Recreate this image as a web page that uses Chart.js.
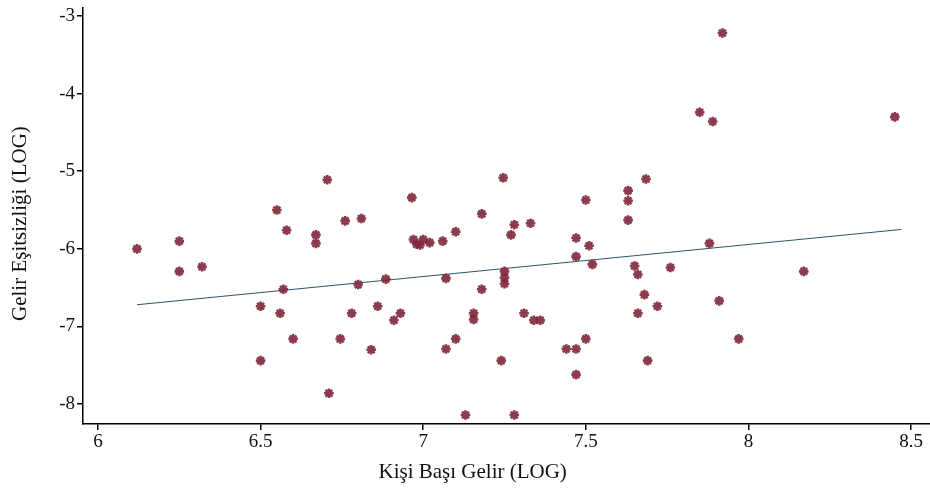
<!DOCTYPE html>
<html>
<head>
<meta charset="utf-8">
<script src="https://cdn.jsdelivr.net/npm/chart.js@4.4.0/dist/chart.umd.min.js"></script>
<style>
  html, body { margin: 0; padding: 0; background: #fff; overflow: hidden; }
  #wrap { width: 938px; height: 495px; }
</style>
</head>
<body>
<div id="wrap"><canvas id="myChart"></canvas></div>
<script>
// kişi başı gelir (log) / gelir eşitsizliği (log)
var gelirX = [6.12, 6.25, 6.25, 6.32, 6.55, 6.705, 6.58, 6.67, 6.67, 6.76, 6.81,
  6.57, 6.50, 6.56, 6.60, 6.50, 6.71, 6.80, 6.78, 6.745, 6.84, 6.86,
  6.965, 7.246, 7.18, 7.50, 7.63, 7.63, 7.685, 7.28, 7.33, 7.27, 7.10, 7.06,
  6.97, 7.00, 6.99, 7.02, 6.98,
  7.63, 7.47, 7.51, 7.47, 7.52, 7.65, 7.66, 7.68, 7.72, 7.66, 7.69,
  6.885, 7.07, 7.25, 7.25, 7.25, 7.18, 6.93, 6.91, 7.155, 7.155, 7.31, 7.34, 7.36,
  7.10, 7.07, 7.44, 7.47, 7.50, 7.24, 7.47, 7.13, 7.28,
  7.92, 7.85, 7.89, 8.45,
  7.88, 7.76, 7.91, 7.97, 8.17];
var esitsizlikY = [-6.00, -5.90, -6.29, -6.23, -5.50, -5.11, -5.76, -5.82, -5.93, -5.64, -5.61,
  -6.52, -6.74, -6.83, -7.16, -7.44, -7.86, -6.46, -6.83, -7.16, -7.30, -6.74,
  -5.34, -5.085, -5.55, -5.37, -5.25, -5.38, -5.10, -5.69, -5.67, -5.82, -5.78, -5.90,
  -5.88, -5.88, -5.95, -5.92, -5.94,
  -5.63, -5.86, -5.96, -6.10, -6.20, -6.22, -6.33, -6.59, -6.74, -6.83, -7.44,
  -6.39, -6.38, -6.29, -6.37, -6.45, -6.52, -6.83, -6.92, -6.83, -6.91, -6.83, -6.92, -6.92,
  -7.16, -7.29, -7.29, -7.29, -7.16, -7.44, -7.62, -8.14, -8.14,
  -3.22, -4.24, -4.36, -4.30,
  -5.93, -6.24, -6.67, -7.16, -6.29];

// fitted line
var fitX = [6.12, 8.47];
var fitY = [-6.72, -5.75];

var xTicks = [6, 6.5, 7, 7.5, 8, 8.5];
var yTicks = [-8, -7, -6, -5, -4, -3];

var points = gelirX.map(function(x, i){ return {x: x, y: esitsizlikY[i]}; });
var fitLine = fitX.map(function(x, i){ return {x: x, y: fitY[i]}; });

var serif = "'Liberation Serif', 'DejaVu Serif', serif";
var nb = '\u00a0';

var ctx = document.getElementById('myChart').getContext('2d');
new Chart(ctx, {
  type: 'scatter',
  data: {
    datasets: [{
      data: points,
      pointStyle: 'star',
      pointRadius: 4.8,
      borderWidth: 2.6,
      borderColor: 'rgba(128,38,58,0.9)',
      backgroundColor: 'rgba(128,38,58,0.9)',
      order: 1
    }, {
      type: 'line',
      data: fitLine,
      borderColor: '#2a5567',
      borderWidth: 1,
      pointRadius: 0,
      fill: false,
      order: 2
    }]
  },
  options: {
    responsive: true,
    maintainAspectRatio: false,
    animation: false,
    layout: { padding: { left: 0, right: 0, top: 5, bottom: 0 } },
    plugins: { legend: { display: false }, tooltip: { enabled: false } },
    scales: {
      x: {
        type: 'linear',
        min: 5.954,
        max: 8.56,
        afterBuildTicks: function(scale){ scale.ticks = xTicks.map(function(v){ return {value: v}; }); },
        afterFit: function(scale){ scale.height = 71; scale.paddingLeft = 0; scale.paddingRight = 0; },
        grid: { drawOnChartArea: false, drawTicks: true, tickLength: 6, color: '#000', lineWidth: 1.5 },
        border: { display: true, color: '#000', width: 1.5 },
        ticks: {
          color: '#111', font: { family: serif, size: 19 }, padding: 1,
          callback: function(v){ return String(v); }
        },
        title: { display: true, text: 'Kişi Başı Gelir (LOG)' + nb.repeat(13), color: '#111', font: { family: serif, size: 21 }, padding: { top: 4, bottom: 10 } }
      },
      y: {
        type: 'linear',
        min: -8.256,
        max: -2.89,
        afterBuildTicks: function(scale){ scale.ticks = yTicks.map(function(v){ return {value: v}; }); },
        afterFit: function(scale){ scale.width = 83; scale.paddingTop = 0; scale.paddingBottom = 0; },
        grid: { drawOnChartArea: false, drawTicks: true, tickLength: 6, color: '#000', lineWidth: 1.5 },
        border: { display: true, color: '#000', width: 1.5 },
        ticks: {
          color: '#111', font: { family: serif, size: 19 }, padding: 2,
          callback: function(v){ return String(v); }
        },
        title: { display: true, text: 'Gelir Eşitsizliği (LOG)' + nb.repeat(3), color: '#111', font: { family: serif, size: 21 }, padding: { top: 8, bottom: 4 } }
      }
    }
  }
});
</script>
</body>
</html>
